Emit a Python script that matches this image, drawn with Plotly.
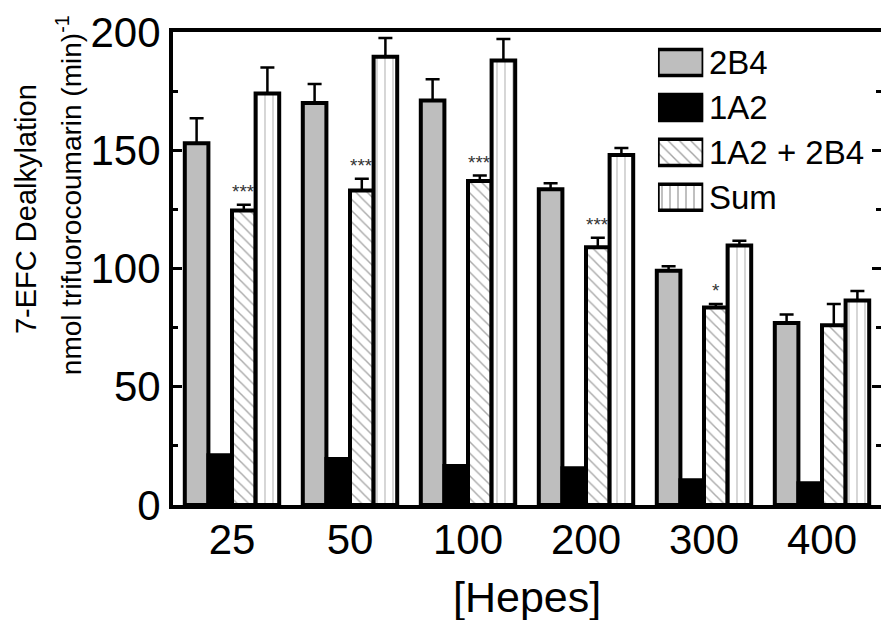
import plotly.graph_objects as go

# ---- data ----
categories = ["25", "50", "100", "200", "300", "400"]
v_2b4 = [153, 170, 171, 133.5, 99, 77]
e_2b4 = [10.5, 8, 9, 2.5, 2, 3.5]
v_1a2 = [21, 19.5, 16.5, 15.5, 10.5, 9.2]
v_mix = [124.5, 133, 137, 109, 83.5, 76]
e_mix = [2.5, 5, 2.3, 4, 1.5, 9]
v_sum = [174, 189.5, 188, 148, 109.7, 86.5]
e_sum = [11, 8, 9, 3, 2, 4]
sig_index = [0, 1, 2, 3, 4]
sig_text = ["***", "***", "***", "***", "*"]
legend_names = ["2B4", "1A2", "1A2 + 2B4", "Sum"]

FONT = "Liberation Sans, Arial, sans-serif"
GRAY = "#bebebe"
LINE = dict(color="black", width=4)


def err(arr):
    return dict(type="data", array=arr, arrayminus=[0] * len(arr), symmetric=False,
                color="black", thickness=2.5, width=7)


fig = go.Figure()
fig.add_bar(x=categories, y=v_2b4, name=legend_names[0], showlegend=False,
            marker=dict(color=GRAY, line=LINE), error_y=err(e_2b4))
fig.add_bar(x=categories, y=v_1a2, name=legend_names[1], showlegend=False,
            marker=dict(color="black", line=LINE))
fig.add_bar(x=categories, y=v_mix, name=legend_names[2], showlegend=False,
            marker=dict(color="white", line=LINE,
                        pattern=dict(shape="\\", fgcolor="#555555", bgcolor="white",
                                     size=8, solidity=0.18)),
            error_y=err(e_mix))
fig.add_bar(x=categories, y=v_sum, name=legend_names[3], showlegend=False,
            marker=dict(color="white", line=LINE,
                        pattern=dict(shape="|", fgcolor="#808080", bgcolor="white",
                                     size=8, solidity=0.16)),
            error_y=err(e_sum))

# invisible trace so the right-hand tick axis is drawn
fig.add_scatter(x=[categories[0]], y=[0], yaxis="y2", mode="markers",
                marker=dict(opacity=0), showlegend=False, hoverinfo="skip")

# custom legend drawn as bars on a small auxiliary axis pair
fig.add_bar(x=[1, 1, 1, 1], y=[0, 1, 2, 3], orientation="h", width=0.58,
            xaxis="x3", yaxis="y3", showlegend=False, hoverinfo="skip",
            marker=dict(color=[GRAY, "black", "white", "white"],
                        line=dict(color="black", width=3.5),
                        pattern=dict(shape=["", "", "\\", "|"],
                                     fgcolor=["#555555", "#000000", "#555555", "#808080"],
                                     bgcolor=[GRAY, "black", "white", "white"],
                                     size=8, solidity=0.17)))

annotations = []
for i, name in enumerate(legend_names):
    annotations.append(dict(xref="x3", yref="y3", x=1, y=i, xshift=4, text=name,
                            showarrow=False, xanchor="left", yanchor="middle",
                            font=dict(family=FONT, size=33, color="black")))

for idx, t in zip(sig_index, sig_text):
    annotations.append(dict(xref="x", yref="y", x=idx + 0.1, y=v_mix[idx] + e_mix[idx],
                            yshift=13, text=t, showarrow=False, xanchor="center",
                            yanchor="middle", font=dict(family=FONT, size=19, color="#333333")))

# axis titles
annotations.append(dict(xref="paper", yref="paper", x=-0.2076, y=0.6258,
                        text="7-EFC Dealkylation", textangle=-90, showarrow=False,
                        xanchor="center", yanchor="middle",
                        font=dict(family=FONT, size=29, color="black")))
annotations.append(dict(xref="paper", yref="paper", x=-0.1469, y=0.655,
                        text="nmol trifuorocoumarin (min)<sup>-1</sup>", textangle=-90,
                        showarrow=False, xanchor="center", yanchor="middle",
                        font=dict(family=FONT, size=28, color="black")))
annotations.append(dict(xref="paper", yref="paper", x=0.5, y=-0.1945,
                        text="[Hepes]", showarrow=False, xanchor="center", yanchor="middle",
                        font=dict(family=FONT, size=43, color="black")))

fig.update_layout(
    width=881, height=620,
    margin=dict(l=173, r=0, t=32, b=115),
    plot_bgcolor="white", paper_bgcolor="white",
    barmode="group", bargap=0.2, bargroupgap=0,
    showlegend=False,
    font=dict(family=FONT, color="black"),
    xaxis=dict(type="category", range=[-0.5, 5.5], showline=True, linewidth=4,
               linecolor="black", mirror=True, ticks="", showgrid=False,
               ticklabelstandoff=-5,
               tickfont=dict(family=FONT, size=42)),
    yaxis=dict(range=[0, 200], dtick=50, ticks="inside", ticklen=9, tickwidth=3,
               tickcolor="black", showline=True, linewidth=4, linecolor="black",
               showgrid=False, zeroline=False, tickfont=dict(family=FONT, size=42),
               minor=dict(dtick=25, ticks="inside", ticklen=5, tickwidth=3,
                          tickcolor="black", showgrid=False)),
    yaxis2=dict(overlaying="y", side="right", anchor="x", range=[0, 200], dtick=50,
                ticks="inside", ticklen=9, tickwidth=3, tickcolor="black",
                showticklabels=False, showline=False, showgrid=False, zeroline=False,
                minor=dict(dtick=25, ticks="inside", ticklen=5, tickwidth=3,
                           tickcolor="black", showgrid=False)),
    xaxis3=dict(domain=[0.685, 0.749], anchor="y3", range=[0, 1], visible=False),
    yaxis3=dict(domain=[0.603, 0.983], anchor="x3", range=[3.5, -0.5], visible=False),
    annotations=annotations,
)

fig.write_html("out.html")
